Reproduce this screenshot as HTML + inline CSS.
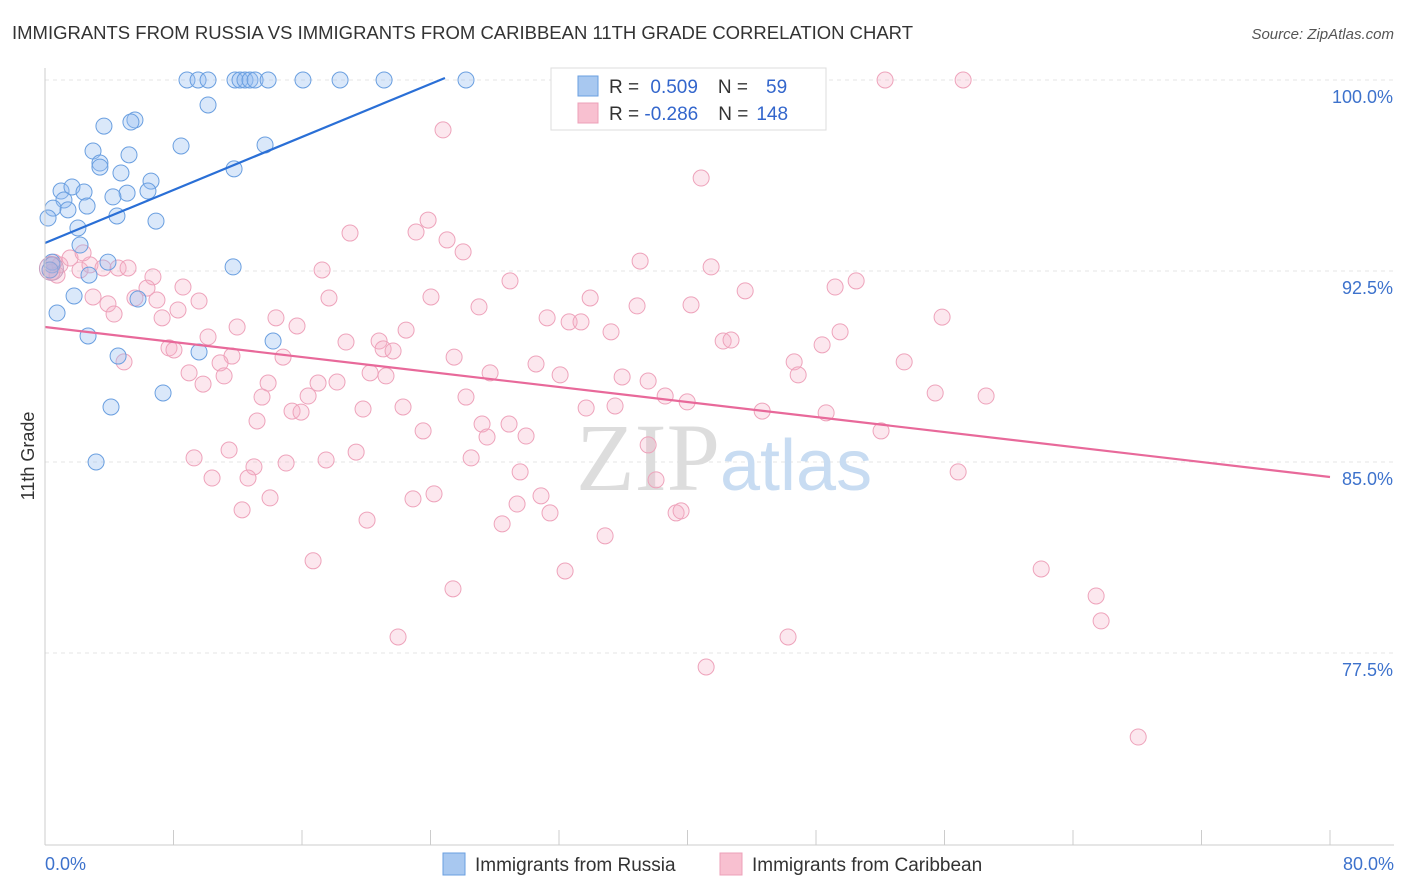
<!DOCTYPE html>
<html><head><meta charset="utf-8"><style>
body{margin:0;background:#fff;font-family:"Liberation Sans",sans-serif;}
svg{display:block}
</style></head><body>
<svg width="1406" height="892" xmlns="http://www.w3.org/2000/svg">
<text x="12" y="39" font-size="18" fill="#333" textLength="901" lengthAdjust="spacingAndGlyphs">IMMIGRANTS FROM RUSSIA VS IMMIGRANTS FROM CARIBBEAN 11TH GRADE CORRELATION CHART</text>
<text x="1394" y="39" font-size="15" fill="#555" font-style="italic" text-anchor="end">Source: ZipAtlas.com</text>
<g id="grid"></g>
<text x="720" y="490" font-size="96" font-family="Liberation Serif,serif" fill="#ddd" text-anchor="end">ZIP</text>
<text x="720" y="490" font-size="72" fill="#c8dcf2">atlas</text>
<g id="pts"></g>
<g id="lines"></g>
<g id="axes"></g>
<text x="34" y="456" font-size="18" fill="#333" text-anchor="middle" transform="rotate(-90 34 456)">11th Grade</text>
<g>
<rect x="551" y="68" width="275" height="62" fill="#fff" stroke="#ddd"/>
<rect x="578" y="76" width="20" height="20" fill="#a8c8f0" stroke="#6a9fe0"/>
<rect x="578" y="103" width="20" height="20" fill="#f8c0d0" stroke="#eda0b8"/>
<text x="609" y="93" font-size="19" fill="#333">R = <tspan fill="#3366cc" dx="6">0.509</tspan><tspan dx="20">N =</tspan><tspan fill="#3366cc" dx="18">59</tspan></text>
<text x="609" y="120" font-size="19" fill="#333">R = <tspan fill="#3366cc">-0.286</tspan><tspan dx="20">N =</tspan><tspan fill="#3366cc" dx="8">148</tspan></text>
</g>
<g>
<rect x="443" y="853" width="22" height="22" fill="#a8c8f0" stroke="#6a9fe0"/>
<text x="475" y="871" font-size="19" fill="#333">Immigrants from Russia</text>
<rect x="720" y="853" width="22" height="22" fill="#f8c0d0" stroke="#eda0b8"/>
<text x="752" y="871" font-size="19" fill="#333">Immigrants from Caribbean</text>
</g>
</svg>
<script>
const yTicks=[100,92.5,85,77.5];
const yTickLabels=["100.0%","92.5%","85.0%","77.5%"];
const xTickLabels=["0.0%","80.0%"];
const russiaX=[8.84,9.53,10.15,11.83,12.14,12.45,12.76,13.08,13.89,16.06,18.37,21.11,26.21,10.15,3.67,5.60,5.35,2.99,8.47,5.23,13.70,3.42,3.42,4.73,11.77,6.60,1.00,1.68,2.43,6.41,5.11,4.23,1.18,1.43,2.62,0.50,4.48,6.91,0.19,2.05,2.18,0.44,3.92,2.74,11.71,1.81,5.79,0.75,2.68,14.20,4.55,9.59,7.35,4.11,3.18,0.44,0.31];
const russiaY=[100,100,100,100,100,100,100,100,100,100,100,100,100,99.02,98.19,98.43,98.35,97.21,97.41,97.06,97.45,96.74,96.58,96.35,96.51,96.03,95.64,95.80,95.60,95.64,95.56,95.41,95.29,94.90,95.05,94.97,94.66,94.46,94.58,94.19,93.52,92.85,92.85,92.34,92.66,91.52,91.40,90.85,89.95,89.75,89.16,89.32,87.71,87.16,85.00,92.74,92.54];
const caribX=[52.30,57.16,24.78,40.85,23.85,18.99,23.10,25.03,26.03,0.56,0.31,0.93,1.56,2.18,2.80,3.61,4.55,5.17,2.37,6.72,8.59,6.35,5.60,6.97,8.28,9.59,2.99,3.92,4.30,7.29,17.25,28.95,37.05,41.47,50.50,49.19,43.59,17.68,24.03,27.02,33.94,36.86,40.22,55.85,31.26,32.63,33.37,14.38,11.96,15.69,22.48,35.24,10.15,7.72,8.03,18.74,20.80,21.05,21.67,42.22,42.71,48.38,49.50,11.64,4.92,14.82,10.90,25.47,30.57,8.97,11.15,20.24,21.23,27.71,32.07,35.93,37.55,46.64,46.89,53.49,9.84,13.89,17.00,18.18,13.51,16.38,26.21,38.61,39.98,55.42,58.59,15.38,15.94,19.80,22.29,33.69,35.49,44.65,48.63,52.05,13.20,27.21,28.89,27.52,29.95,23.54,37.55,11.46,9.28,13.01,17.50,19.37,26.53,15.01,10.40,12.64,29.58,56.85,38.04,14.01,22.91,24.22,30.88,29.39,12.27,20.05,28.46,31.44,39.29,39.60,34.87,16.69,32.38,62.02,25.40,65.44,65.75,21.98,46.26,41.16,68.06,0.75,0.44];
const caribY=[100,100,98.04,96.15,94.50,93.99,94.03,93.72,93.25,92.85,92.54,92.74,93.01,92.54,92.74,92.62,92.62,92.62,93.21,92.27,91.87,91.83,91.44,91.36,90.97,91.32,91.48,91.21,90.81,90.66,92.54,92.11,92.89,92.66,92.11,91.87,91.72,91.44,91.48,91.09,91.44,91.13,91.17,90.69,90.66,90.50,90.50,90.66,90.30,90.34,90.18,90.11,89.91,89.48,89.40,89.71,89.75,89.44,89.36,89.75,89.79,89.60,90.11,89.16,88.93,89.12,88.89,89.12,88.85,88.50,88.38,88.50,88.38,88.50,88.42,88.34,88.18,88.93,88.42,88.93,88.06,88.10,88.10,88.14,87.55,87.59,87.55,87.59,87.36,87.71,87.59,87.00,86.96,87.08,87.16,87.12,87.20,87.00,86.93,86.22,86.61,86.49,86.49,85.98,86.02,86.22,85.67,85.47,85.16,84.81,85.08,85.39,85.16,84.96,84.37,84.37,84.61,84.61,84.30,83.59,83.55,83.75,83.67,83.35,83.12,82.72,82.57,83.00,83.00,83.08,82.10,81.12,80.72,80.80,80.02,79.74,78.76,78.13,78.13,76.95,74.20,92.34,92.46];
const russiaTrend=[[0,93.6],[24.9,100.08]];
const caribTrend=[[0,90.3],[80,84.41]];
const NS='http://www.w3.org/2000/svg';
const sx=v=>45+v/80*1285;
const sy=v=>80+(100-v)/7.5*191;
function mk(tag,attrs,parent){const e=document.createElementNS(NS,tag);for(const k in attrs)e.setAttribute(k,attrs[k]);parent.appendChild(e);return e;}
const grid=document.getElementById('grid'),axes=document.getElementById('axes'),pts=document.getElementById('pts'),lines=document.getElementById('lines');
yTicks.forEach((t,i)=>{
 const l=mk('line',{x1:45,x2:1394,y1:sy(t),y2:sy(t),stroke:'#e4e4e4','stroke-dasharray':'4,4'},grid);
 
 
 const tx=mk('text',{x:1393,y:sy(t)+23,'font-size':18,fill:'#3d72cc','text-anchor':'end'},axes);
 tx.textContent=yTickLabels[i];
 
 
});
const ax=mk('line',{x1:45,x2:45,y1:68,y2:845,stroke:'#ccc'},axes);


const bx=mk('line',{x1:45,x2:1394,y1:845,y2:845,stroke:'#ccc'},axes);


for(let i=0;i<=10;i++){
 const t=mk('line',{x1:sx(i*8),x2:sx(i*8),y1:830,y2:845,stroke:'#ccc'},axes);
 
 
}
[[0,'start',45],[1,'end',1394]].forEach(([i,a,x])=>{
 const tx=mk('text',{x:x,y:870,'font-size':18,fill:'#3d72cc','text-anchor':a},axes);
 tx.textContent=xTickLabels[i];
 
 
});
caribX.forEach((v,i)=>{
 const c=mk('circle',{cx:sx(v),cy:sy(caribY[i]),r:8,fill:'rgba(246,175,198,0.3)',stroke:'#eea3bb','stroke-width':1},pts);
 
 
});
russiaX.forEach((v,i)=>{
 const c=mk('circle',{cx:sx(v),cy:sy(russiaY[i]),r:8,fill:'rgba(150,190,240,0.35)',stroke:'#6a9fe0','stroke-width':1},pts);
 
 
});
const big=mk('circle',{cx:sx(0.4),cy:sy(92.6),r:12,fill:'rgba(200,170,200,0.35)',stroke:'#c9a0c0'},pts);


const l1=mk('line',{x1:sx(russiaTrend[0][0]),y1:sy(russiaTrend[0][1]),x2:sx(russiaTrend[1][0]),y2:sy(russiaTrend[1][1]),stroke:'#2a6fd6','stroke-width':2.2},lines);


const l2=mk('line',{x1:sx(caribTrend[0][0]),y1:sy(caribTrend[0][1]),x2:sx(caribTrend[1][0]),y2:sy(caribTrend[1][1]),stroke:'#e8699a','stroke-width':2.2},lines);


</script>
</body></html>
